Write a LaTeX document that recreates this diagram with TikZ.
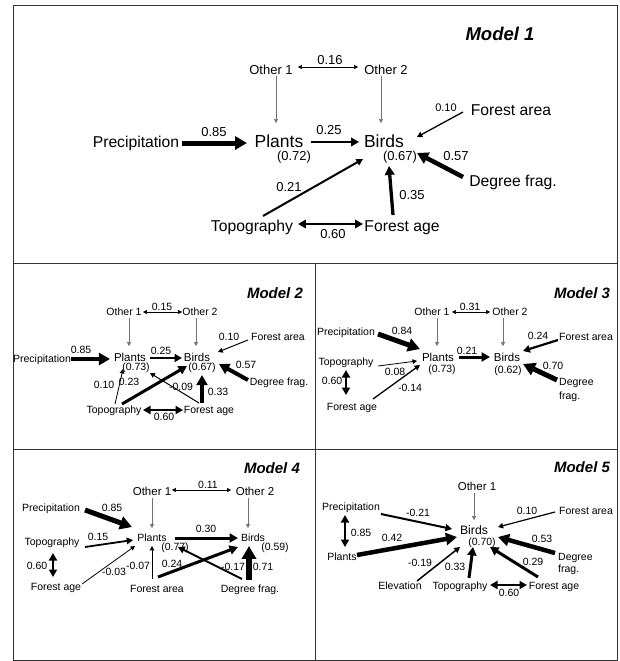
\documentclass[tikz,border=0pt]{standalone}
\usepackage{fontspec}
\setmainfont{Liberation Sans}
\usetikzlibrary{arrows.meta}
\tikzset{
 lbl/.style={inner sep=0pt, text depth=0pt},
 fA/.style={lbl, font=\fontsize{17.5}{20}\selectfont, text height=12.5pt},
 fB/.style={lbl, font=\fontsize{15.7}{18}\selectfont, text height=11.2pt},
 fC/.style={lbl, font=\fontsize{13}{15}\selectfont, text height=9.3pt},
 fCs/.style={lbl, font=\fontsize{11}{13}\selectfont, text height=7.9pt},
 ttl/.style={lbl, font=\fontsize{18.5}{20}\selectfont\bfseries\itshape, text height=13.2pt},
 ttls/.style={lbl, font=\fontsize{15}{17}\selectfont\bfseries\itshape, text height=10.7pt},
 fm/.style={lbl, font=\fontsize{11.5}{13}\selectfont, text height=8.2pt},
 fs/.style={lbl, font=\fontsize{10.5}{12}\selectfont, text height=7.5pt},
 fM5/.style={lbl, font=\fontsize{12.2}{14}\selectfont, text height=8.7pt},
 ar/.style={line width=#1, -{Triangle[length=3pt 1.8, width=3pt 2]}},
 br/.style={line width=#1, {Triangle[length=3pt 1.8, width=3pt 2]}-{Triangle[length=3pt 1.8, width=3pt 2]}},
 oth/.style={ar=0.5pt, draw=black!55, fill=black!55},
 framel/.style={line width=1pt, draw=black!80}
}
\begin{document}
\begin{tikzpicture}[x=1pt, y=-1pt]
\useasboundingbox (0,0) rectangle (619,661);
\fill[white] (0,0) rectangle (619,661);
% frame
\draw[framel] (13,6) rectangle (617,660);
\draw[framel] (13,263) -- (617,263);
\draw[framel] (13,449) -- (617,449);
\draw[framel] (315,263) -- (315,660);

% ---------------- Model 1
\node[ttl] (at) at (500,34) {Model 1};
\node[fC] (ao1) at (271,70) {Other 1};
\node[fC] (ao2) at (386,70) {Other 2};
\node[fC] (a016) at (330,60) {0.16};
\node[fB] (afa) at (511,110) {Forest area};
\node[fCs] (a010) at (446,108) {0.10};
\node[fB] (apr) at (136,142) {Precipitation};
\node[fC] (a085) at (214,132) {0.85};
\node[fA] (apl) at (279,141) {Plants};
\node[fC] (aR072) at (294,156) {(0.72)};
\node[fC] (a025) at (329,130) {0.25};
\node[fA] (abi) at (384,141) {Birds};
\node[fC] (aR067) at (400,156) {(0.67)};
\node[fC] (a057) at (456,156) {0.57};
\node[fB] (adf) at (513,181) {Degree frag.};
\node[fC] (a021) at (289,187) {0.21};
\node[fC] (a035) at (412,195) {0.35};
\node[fB] (atp) at (252,226) {Topography};
\node[fB] (afg) at (402,226) {Forest age};
\node[fC] (a060) at (333,234) {0.60};

\draw[br=0.5pt] ([shift={(27,-3)}]ao1.center) -- ([shift={(-28,-3)}]ao2.center);
\draw[oth] ([shift={(5,6)}]ao1.center) -- ([shift={(-3,-18)}]apl.center);
\draw[oth] ([shift={(-5,6)}]ao2.center) -- ([shift={(-3,-18)}]abi.center);
\draw[ar=5pt] ([shift={(46,1)}]apr.center) -- ([shift={(-32,2)}]apl.center);
\draw[ar=2.7pt] ([shift={(32,1)}]apl.center) -- ([shift={(-25,1)}]abi.center);
\draw[ar=1.3pt] ([shift={(-48,2)}]afa.center) -- ([shift={(33,-4)}]abi.center);
\draw[ar=4.5pt] ([shift={(-50,-4)}]adf.center) -- ([shift={(33,12)}]abi.center);
\draw[ar=2pt] ([shift={(11,-10)}]atp.center) -- ([shift={(-21,18)}]abi.center);
\draw[ar=3.3pt] ([shift={(-9,-11)}]afg.center) -- ([shift={(5,25)}]abi.center);
\draw[br=2.7pt] ([shift={(46,-2)}]atp.center) -- ([shift={(-39,-2)}]afg.center);

% ---------------- Model 2
\node[ttls] (bt) at (275,293) {Model 2};
\node[fs] (bo1) at (124,312) {Other 1};
\node[fs] (bo2) at (200,312) {Other 2};
\node[fs] (b015) at (162,307) {0.15};
\node[fs] (bfa) at (278,337) {Forest area};
\node[fs] (b010a) at (229,337) {0.10};
\node[fs] (bpr) at (42,359) {Precipitation};
\node[fs] (b085) at (81,350) {0.85};
\node[fm] (bpl) at (130,357) {Plants};
\node[fs] (bR073) at (136,367) {(0.73)};
\node[fs] (b025) at (161,351) {0.25};
\node[fm] (bbi) at (197,357) {Birds};
\node[fs] (bR067) at (202,367) {(0.67)};
\node[fs] (b057) at (246,365) {0.57};
\node[fs] (bdf) at (279,382) {Degree frag.};
\node[fs] (b010b) at (104,385) {0.10};
\node[fs] (b023) at (129,382) {0.23};
\node[fs] (b009) at (181,387) {-0.09};
\node[fs] (b033) at (218,392) {0.33};
\node[fs] (btp) at (114,410) {Topography};
\node[fs] (bfg) at (209,410) {Forest age};
\node[fs] (b060) at (164,417) {0.60};

\draw[br=0.5pt] ([shift={(19,0)}]bo1.center) -- ([shift={(-18,0)}]bo2.center);
\draw[oth] ([shift={(5,6)}]bo1.center) -- ([shift={(-1,-11)}]bpl.center);
\draw[oth] ([shift={(-4,6)}]bo2.center) -- ([shift={(-1,-11)}]bbi.center);
\draw[ar=4.5pt] ([shift={(29,0)}]bpr.center) -- ([shift={(-20,2)}]bpl.center);
\draw[ar=2.5pt] ([shift={(20,1)}]bpl.center) -- ([shift={(-15,1)}]bbi.center);
\draw[ar=1pt] ([shift={(-30,3)}]bfa.center) -- ([shift={(21,-5)}]bbi.center);
\draw[ar=4pt] ([shift={(-31,-2)}]bdf.center) -- ([shift={(22,7)}]bbi.center);
\draw[ar=0.8pt] ([shift={(1,-6)}]btp.center) -- ([shift={(-7,12)}]bpl.center);
\draw[ar=3pt] ([shift={(8,-6)}]btp.center) -- ([shift={(-10,9)}]bbi.center);
\draw[ar=1pt] ([shift={(-10,-7)}]bfg.center) -- ([shift={(20,16)}]bpl.center);
\draw[ar=4pt] ([shift={(-7,-7)}]bfg.center) -- ([shift={(5,18)}]bbi.center);
\draw[br=2.5pt] ([shift={(29,0)}]btp.center) -- ([shift={(-26,0)}]bfg.center);

% ---------------- Model 3
\node[ttls] (ct) at (582,293) {Model 3};
\node[fs] (co1) at (432,312) {Other 1};
\node[fs] (co2) at (510,312) {Other 2};
\node[fs] (c031) at (470,307) {0.31};
\node[fs] (cpr) at (346,332) {Precipitation};
\node[fs] (c084) at (402,331) {0.84};
\node[fs] (c024) at (538,336) {0.24};
\node[fs] (cfa) at (586,337) {Forest area};
\node[fs] (ctp) at (346,362) {Topography};
\node[fs] (c008) at (395,372) {0.08};
\node[fm] (cpl) at (438,357) {Plants};
\node[fs] (cR073) at (442,369) {(0.73)};
\node[fs] (c021) at (467,351) {0.21};
\node[fm] (cbi) at (507,357) {Birds};
\node[fs] (cR062) at (508,370) {(0.62)};
\node[fs] (c070) at (553,366) {0.70};
\node[fs, anchor=west] (cdf) at (559,382) {Degree};
\node[fs, anchor=west] (cdf2) at (559,396) {frag.};
\node[fs] (c060) at (332,381) {0.60};
\node[fs] (c014) at (410,388) {-0.14};
\node[fs] (cfg) at (352,407) {Forest age};

\draw[br=0.5pt] ([shift={(20,0)}]co1.center) -- ([shift={(-20,0)}]co2.center);
\draw[oth] ([shift={(5,6)}]co1.center) -- ([shift={(-1,-11)}]cpl.center);
\draw[oth] ([shift={(-7,6)}]co2.center) -- ([shift={(-4,-11)}]cbi.center);
\draw[ar=5pt] ([shift={(32,2)}]cpr.center) -- ([shift={(-18,-8)}]cpl.center);
\draw[ar=0.8pt] ([shift={(32,4)}]ctp.center) -- ([shift={(-21,4)}]cpl.center);
\draw[ar=1.3pt] ([shift={(21,-8)}]cfg.center) -- ([shift={(-18,8)}]cpl.center);
\draw[ar=3pt] ([shift={(21,0)}]cpl.center) -- ([shift={(-17,0)}]cbi.center);
\draw[ar=2.2pt] ([shift={(-28,3)}]cfa.center) -- ([shift={(16,-6)}]cbi.center);
\draw[ar=5pt] ([shift={(-2,-2)}]cdf.west) -- ([shift={(16,7)}]cbi.center);
\draw[br=2.5pt] ([shift={(0,8)}]ctp.center) -- ([shift={(-6,-12)}]cfg.center);

% ---------------- Model 4
\node[ttls] (dt) at (272,468) {Model 4};
\node[fm] (do1) at (152,491) {Other 1};
\node[fm] (do2) at (255,491) {Other 2};
\node[fs] (d011) at (208,485) {0.11};
\node[fs] (dpr) at (51,508) {Precipitation};
\node[fs] (d085) at (112,508) {0.85};
\node[fs] (dtp) at (52,542) {Topography};
\node[fs] (d015) at (98,537) {0.15};
\node[fs] (dpl) at (152,538) {Plants};
\node[fs] (dR077) at (175,547) {(0.77)};
\node[fs] (d030) at (206,529) {0.30};
\node[fs] (dbi) at (253,538) {Birds};
\node[fs] (dR059) at (275,547) {(0.59)};
\node[fs] (d060) at (37,566) {0.60};
\node[fs] (d003) at (114,572) {-0.03};
\node[fs] (d007) at (138,566) {-0.07};
\node[fs] (d024) at (172,564) {0.24};
\node[fs] (d017) at (233,567) {-0.17};
\node[fs] (d071) at (263,567) {0.71};
\node[fs] (dfg) at (56,587) {Forest age};
\node[fs] (dfa) at (157,589) {Forest area};
\node[fs] (ddf) at (250,589) {Degree frag.};

\draw[br=0.5pt] ([shift={(20,-1)}]do1.center) -- ([shift={(-24,-1)}]do2.center);
\draw[oth] ([shift={(0,7)}]do1.center) -- ([shift={(0,-10)}]dpl.center);
\draw[oth] ([shift={(-7,7)}]do2.center) -- ([shift={(-5,-10)}]dbi.center);
\draw[ar=5pt] ([shift={(34,2)}]dpr.center) -- ([shift={(-20,-11)}]dpl.center);
\draw[ar=1.8pt] ([shift={(33,5)}]dtp.center) -- ([shift={(-19,2)}]dpl.center);
\draw[ar=0.8pt] ([shift={(26,-3)}]dfg.center) -- ([shift={(-17,8)}]dpl.center);
\draw[ar=0.7pt] ([shift={(-5,-10)}]dfa.center) -- ([shift={(0,8)}]dpl.center);
\draw[ar=3pt] ([shift={(1,-12)}]dfa.center) -- ([shift={(-15,9)}]dbi.center);
\draw[ar=2pt] ([shift={(-8,-10)}]ddf.center) -- ([shift={(26,9)}]dpl.center);
\draw[ar=5.5pt] ([shift={(-1,-9)}]ddf.center) -- ([shift={(-4,8)}]dbi.center);
\draw[ar=3pt] ([shift={(23,0)}]dpl.center) -- ([shift={(-15,0)}]dbi.center);
\draw[br=2.5pt] ([shift={(1,11)}]dtp.center) -- ([shift={(-3,-10)}]dfg.center);

% ---------------- Model 5
\node[ttls] (et) at (582,467) {Model 5};
\node[fm] (eo1) at (477,486) {Other 1};
\node[fs] (epr) at (351,507) {Precipitation};
\node[fs] (e021) at (418,513) {-0.21};
\node[fs] (e010) at (527,511) {0.10};
\node[fs] (efa) at (586,511) {Forest area};
\node[fs] (e085) at (361,533) {0.85};
\node[fs] (e042) at (392,538) {0.42};
\node[fs] (epl) at (342,557) {Plants};
\node[fM5] (ebi) at (474,530) {Birds};
\node[fs] (eR070) at (482,542) {(0.70)};
\node[fs] (e053) at (542,539) {0.53};
\node[fs, anchor=west] (edf) at (558,557) {Degree};
\node[fs, anchor=west] (edf2) at (558,569) {frag.};
\node[fs] (e029) at (533,562) {0.29};
\node[fs] (e019) at (420,563) {-0.19};
\node[fs] (e033) at (455,567) {0.33};
\node[fs] (eel) at (400,586) {Elevation};
\node[fs] (etp) at (460,586) {Topography};
\node[fs] (efg) at (554,586) {Forest age};
\node[fs] (e060) at (509,593) {0.60};

\draw[oth] ([shift={(-3,7)}]eo1.center) -- ([shift={(0,-10)}]ebi.center);
\draw[ar=2pt] ([shift={(30,7)}]epr.center) -- ([shift={(-22,-1)}]ebi.center);
\draw[ar=1.2pt] ([shift={(-31,1)}]efa.center) -- ([shift={(24,-3)}]ebi.center);
\draw[br=2.5pt] ([shift={(-6,8)}]epr.center) -- ([shift={(3,-10)}]epl.center);
\draw[ar=4.5pt] ([shift={(15,-2)}]epl.center) -- ([shift={(-17,7)}]ebi.center);
\draw[ar=4.5pt] ([shift={(-3,-4)}]edf.west) -- ([shift={(24,7)}]ebi.center);
\draw[ar=3pt] ([shift={(-16,-9)}]efg.center) -- ([shift={(16,17)}]ebi.center);
\draw[ar=1.5pt] ([shift={(17,-5)}]eel.center) -- ([shift={(-14,17)}]ebi.center);
\draw[ar=3pt] ([shift={(9,-8)}]etp.center) -- ([shift={(-1,17)}]ebi.center);
\draw[br=2.5pt] ([shift={(30,-1)}]etp.center) -- ([shift={(-27,-1)}]efg.center);
\end{tikzpicture}
\end{document}
